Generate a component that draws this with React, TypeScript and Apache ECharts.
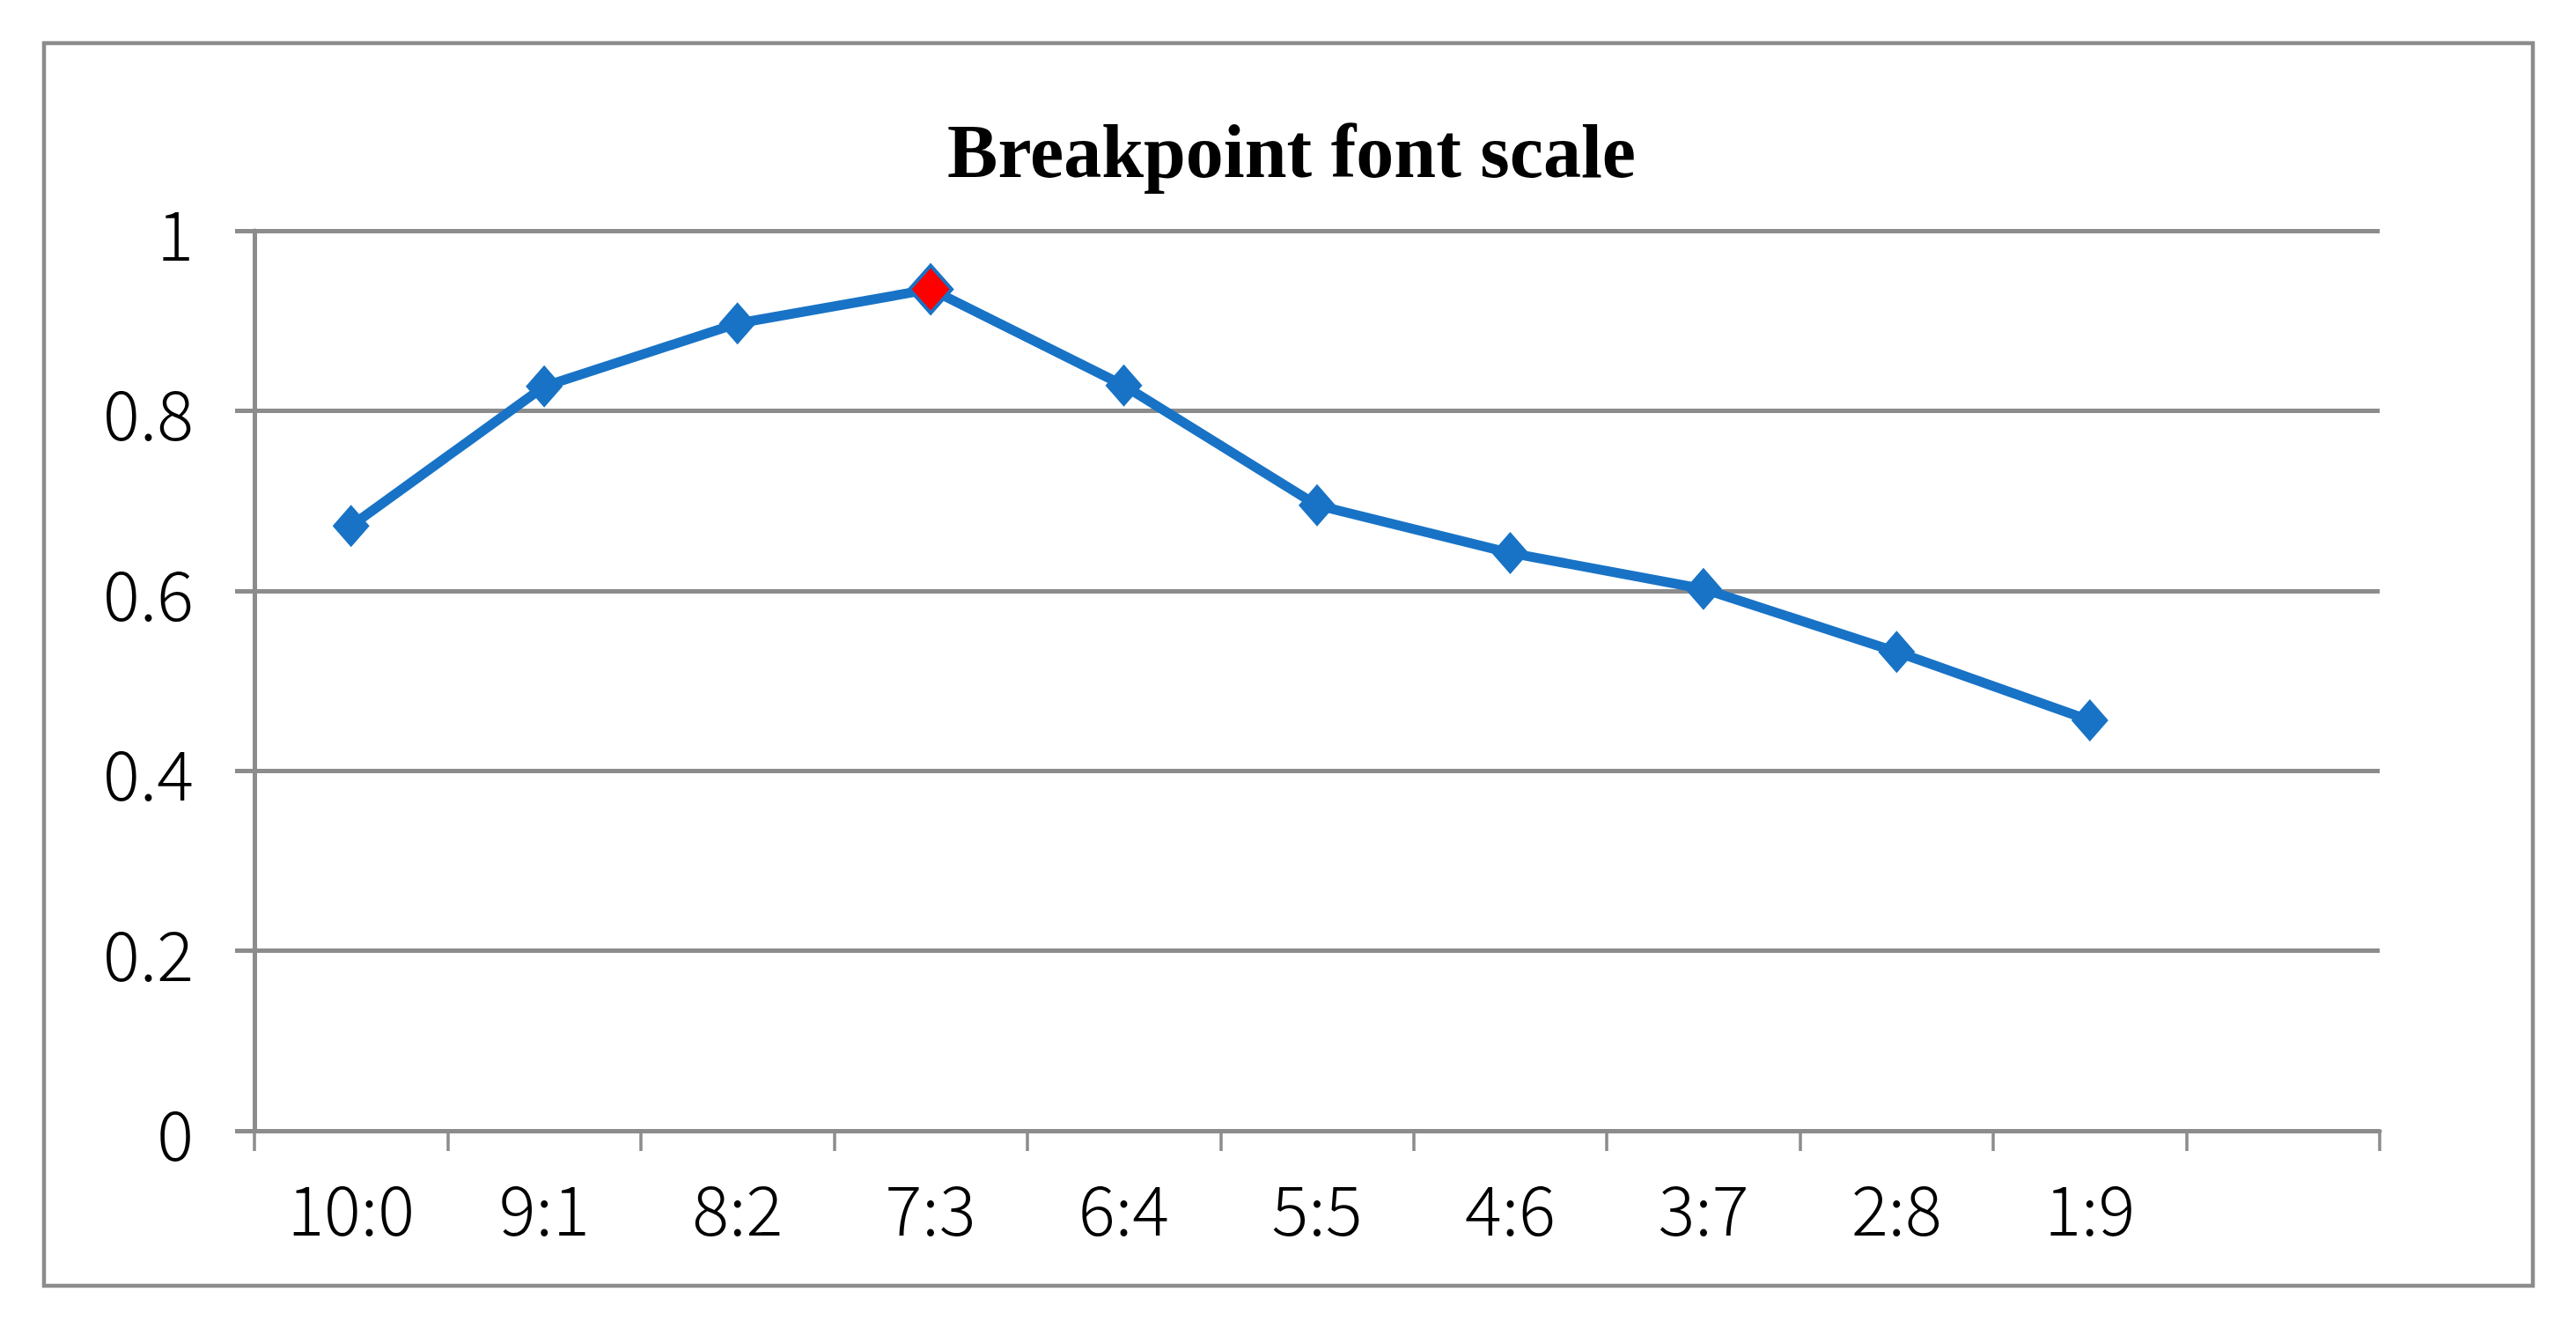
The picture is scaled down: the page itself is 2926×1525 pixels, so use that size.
import React, { useEffect, useRef } from "react";
import * as echarts from "echarts";

const categories = ["10:0", "9:1", "8:2", "7:3", "6:4", "5:5", "4:6", "3:7", "2:8", "1:9", ""];
const values = [0.672, 0.827, 0.897, 0.935, 0.828, 0.695, 0.642, 0.602, 0.532, 0.456];
const highlightIndex = 3;
const titleText = "Breakpoint font scale";

const GRAY = "#8c8c8c";
const BLUE = "#1873c6";
const LABEL_FONT = "'Noto Sans CJK JP', 'Noto Sans', sans-serif";

export default function App() {
  const ref = useRef<HTMLDivElement>(null);
  useEffect(() => {
    if (!ref.current) return;
    const chart = echarts.init(ref.current, undefined, { renderer: "svg" });
    const seriesData = values.map((v, i) =>
      i === highlightIndex
        ? {
            value: v,
            symbolSize: [48, 54],
            itemStyle: { color: "#ff0000", borderColor: BLUE, borderWidth: 4 },
          }
        : v
    );
    chart.setOption({
      animation: false,
      backgroundColor: "#ffffff",
      title: {
        text: titleText,
        left: 1462,
        top: 124,
        textAlign: "center",
        textStyle: {
          fontFamily: "'Liberation Serif', serif",
          fontWeight: "bold",
          fontSize: 86,
          color: "#000000",
        },
      },
      graphic: [
        {
          type: "rect",
          shape: { x: 50, y: 49, width: 2827, height: 1411 },
          style: { fill: "none", stroke: GRAY, lineWidth: 4.5 },
          silent: true,
          z: -1,
        },
      ],
      grid: { left: 289, right: 223, top: 262, bottom: 241 },
      xAxis: {
        type: "category",
        data: categories,
        boundaryGap: true,
        axisLine: { show: true, lineStyle: { color: GRAY, width: 5 } },
        axisTick: { show: true, length: 23, alignWithLabel: false, lineStyle: { color: GRAY, width: 3.5 } },
        axisLabel: {
          interval: 0,
          margin: 46,
          fontSize: 78,
          fontFamily: LABEL_FONT,
          fontWeight: 300,
          color: "#000000",
        },
        splitLine: { show: false },
      },
      yAxis: {
        type: "value",
        min: 0,
        max: 1,
        interval: 0.2,
        axisLine: { show: true, lineStyle: { color: GRAY, width: 5 } },
        axisTick: { show: true, length: 22, lineStyle: { color: GRAY, width: 5 } },
        axisLabel: {
          margin: 69,
          fontSize: 78,
          fontFamily: LABEL_FONT,
          fontWeight: 300,
          color: "#000000",
        },
        splitLine: { show: true, lineStyle: { color: GRAY, width: 5 } },
      },
      series: [
        {
          type: "line",
          data: seriesData,
          symbol: "diamond",
          symbolSize: [42, 48],
          showAllSymbol: true,
          lineStyle: { color: BLUE, width: 11 },
          itemStyle: { color: BLUE },
          z: 5,
        },
      ],
    });
    return () => chart.dispose();
  }, []);
  return (
    <div
      ref={ref}
      style={{ position: "fixed", left: 0, top: 0, width: 2926, height: 1525, background: "#fff" }}
    />
  );
}
